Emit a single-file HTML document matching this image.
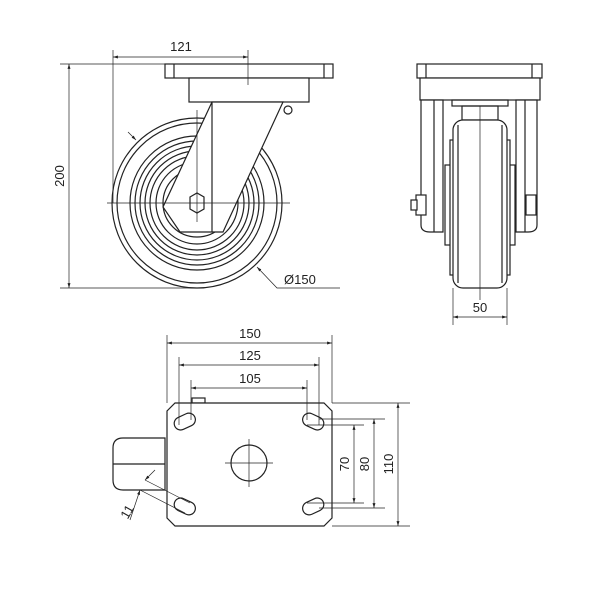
<!DOCTYPE html>
<html><head><style>body{margin:0;background:#fff}svg{display:block}text{font-family:"Liberation Sans","DejaVu Sans",sans-serif;font-size:13px;fill:#222}</style></head><body>
<svg width="600" height="600" viewBox="0 0 600 600" xmlns="http://www.w3.org/2000/svg">
<defs><marker id="a" viewBox="0 0 10 10" refX="10" refY="5" markerWidth="7" markerHeight="7" orient="auto-start-reverse"><path d="M0,2 L10,5 L0,8" fill="#222"/></marker></defs>
<g stroke="#222" fill="none" stroke-width="1.2">
<!-- side view -->
<rect x="165" y="64" width="168" height="14" fill="#fff"/>
<line x1="174" y1="64" x2="174" y2="78"/><line x1="324" y1="64" x2="324" y2="78"/>
<rect x="189" y="78" width="120" height="24" fill="#fff"/>
<circle cx="197" cy="203" r="85" fill="#fff"/>
<circle cx="197" cy="203" r="80"/>
<circle cx="197" cy="203" r="67"/>
<circle cx="197" cy="203" r="62"/>
<circle cx="197" cy="203" r="57"/>
<circle cx="197" cy="203" r="52"/>
<circle cx="197" cy="203" r="47"/>
<circle cx="197" cy="203" r="41"/>
<circle cx="197" cy="203" r="34"/>
<path d="M212,102 L283,102 L223,232 L212,232 Z M212,102 L163,207 L180,232 L212,232" fill="#fff"/>
<polygon points="190,197 197,193 204,197 204,209 197,213 190,209" fill="#fff"/>
<circle cx="288" cy="110" r="4"/>
<g stroke-width="0.7">
<line x1="107" y1="203" x2="290" y2="203"/>
<line x1="197" y1="110" x2="197" y2="222"/>
<line x1="113" y1="50" x2="113" y2="203"/><line x1="248" y1="50" x2="248" y2="85"/>
<line x1="113" y1="57" x2="248" y2="57" marker-start="url(#a)" marker-end="url(#a)"/>
<line x1="60" y1="64" x2="165" y2="64"/><line x1="60" y1="288" x2="197" y2="288"/>
<line x1="69" y1="64" x2="69" y2="288" marker-start="url(#a)" marker-end="url(#a)"/>
<polyline points="340,288 277,288 257,267" marker-end="url(#a)"/>
<line x1="128" y1="132" x2="136" y2="140" marker-end="url(#a)"/>
</g>
<!-- front view -->
<rect x="417" y="64" width="125" height="14" fill="#fff"/>
<line x1="426" y1="64" x2="426" y2="78"/><line x1="532" y1="64" x2="532" y2="78"/>
<rect x="420" y="78" width="120" height="22" fill="#fff"/>
<path d="M421,100 L421,225 Q421,232 430,232 L443,232 L443,100 Z" fill="#fff"/>
<path d="M537,100 L537,225 Q537,232 528,232 L516,232 L516,100 Z" fill="#fff"/>
<line x1="434" y1="100" x2="434" y2="232"/><line x1="525" y1="100" x2="525" y2="232"/>
<rect x="452" y="100" width="56" height="6"/>
<rect x="462" y="106" width="36" height="14"/>
<rect x="445" y="165" width="70" height="80" fill="#fff"/>
<rect x="450" y="140" width="60" height="135" fill="#fff"/>
<rect x="453" y="120" width="54" height="168" rx="10" fill="#fff"/>
<line x1="458" y1="125" x2="458" y2="283"/><line x1="502" y1="125" x2="502" y2="283"/>
<rect x="416" y="195" width="10" height="20" fill="#fff"/><rect x="411" y="200" width="6" height="10" fill="#fff"/>
<rect x="526" y="195" width="10" height="20" fill="#fff"/>
<g stroke-width="0.7">
<line x1="480" y1="106" x2="480" y2="300"/>
<line x1="453" y1="288" x2="453" y2="325"/><line x1="507" y1="288" x2="507" y2="325"/>
<line x1="453" y1="317" x2="507" y2="317" marker-start="url(#a)" marker-end="url(#a)"/>
</g>
<!-- top view -->
<path d="M113,448 Q113,438 123,438 L165,438 L165,490 L123,490 Q113,490 113,480 Z" fill="#fff"/>
<line x1="113" y1="464" x2="165" y2="464"/>
<rect x="192" y="398" width="13" height="5"/>
<path d="M175,403 L324,403 L332,411 L332,518 L324,526 L175,526 L167,518 L167,411 Z" fill="#fff"/>
<circle cx="249" cy="463" r="18"/>
<g fill="#fff">
<rect x="174" y="415" width="22" height="13" rx="6.5" transform="rotate(-25 185 422)"/>
<rect x="302" y="415" width="22" height="13" rx="6.5" transform="rotate(25 313 422)"/>
<rect x="174" y="500" width="22" height="13" rx="6.5" transform="rotate(25 185 506)"/>
<rect x="302" y="500" width="22" height="13" rx="6.5" transform="rotate(-25 313 506)"/>
</g>
<g stroke-width="0.7">
<line x1="225" y1="463" x2="273" y2="463"/><line x1="249" y1="439" x2="249" y2="487"/>
<line x1="167" y1="335" x2="167" y2="403"/><line x1="332" y1="335" x2="332" y2="403"/>
<line x1="167" y1="343" x2="332" y2="343" marker-start="url(#a)" marker-end="url(#a)"/>
<line x1="179" y1="357" x2="179" y2="425"/><line x1="319" y1="357" x2="319" y2="425"/>
<line x1="179" y1="365" x2="319" y2="365" marker-start="url(#a)" marker-end="url(#a)"/>
<line x1="191" y1="380" x2="191" y2="420"/><line x1="307" y1="380" x2="307" y2="420"/>
<line x1="191" y1="388" x2="307" y2="388" marker-start="url(#a)" marker-end="url(#a)"/>
<line x1="332" y1="403" x2="410" y2="403"/><line x1="332" y1="526" x2="410" y2="526"/>
<line x1="398" y1="403" x2="398" y2="526" marker-start="url(#a)" marker-end="url(#a)"/>
<line x1="319" y1="419" x2="385" y2="419"/><line x1="319" y1="508" x2="385" y2="508"/>
<line x1="374" y1="419" x2="374" y2="508" marker-start="url(#a)" marker-end="url(#a)"/>
<line x1="307" y1="425" x2="364" y2="425"/><line x1="307" y1="503" x2="364" y2="503"/>
<line x1="354" y1="425" x2="354" y2="503" marker-start="url(#a)" marker-end="url(#a)"/>
<line x1="145" y1="480" x2="190" y2="503"/><line x1="140" y1="490" x2="185" y2="513"/>
<line x1="155" y1="470" x2="145" y2="480" marker-end="url(#a)"/>
<line x1="130" y1="520" x2="140" y2="490" marker-end="url(#a)"/>
</g>
</g>
<text x="181" y="51" text-anchor="middle">121</text>
<text transform="translate(64,176) rotate(-90)" text-anchor="middle">200</text>
<text x="284" y="284">Ø150</text>
<text x="480" y="312" text-anchor="middle">50</text>
<text x="250" y="338" text-anchor="middle">150</text>
<text x="250" y="360" text-anchor="middle">125</text>
<text x="250" y="383" text-anchor="middle">105</text>
<text transform="translate(349,464) rotate(-90)" text-anchor="middle">70</text>
<text transform="translate(369,464) rotate(-90)" text-anchor="middle">80</text>
<text transform="translate(393,464) rotate(-90)" text-anchor="middle">110</text>
<text transform="translate(131,514) rotate(-60)" text-anchor="middle">11</text>
</svg>
</body></html>
